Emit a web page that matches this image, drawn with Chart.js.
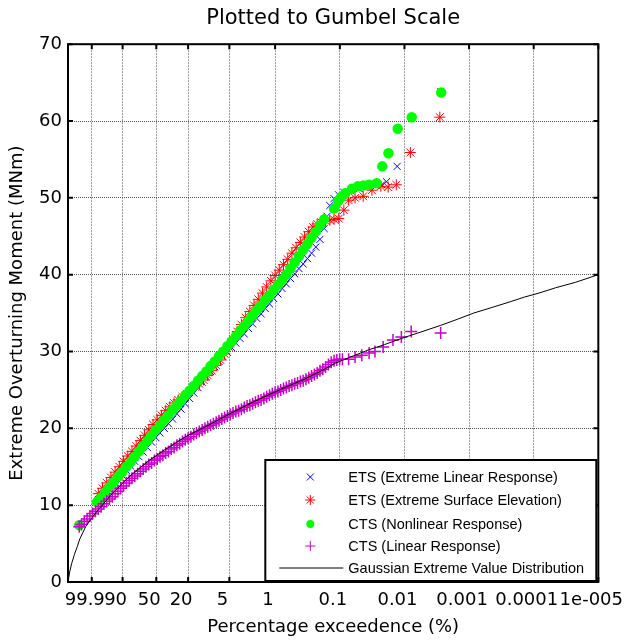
<!DOCTYPE html>
<html>
<head>
<meta charset="utf-8">
<script src="https://cdn.jsdelivr.net/npm/chart.js@4.4.0/dist/chart.umd.min.js"></script>
<style>
  html, body { margin: 0; background: #fff; }
  canvas { display: block; }
</style>
</head>
<body>
<canvas id="gumbel-chart" width="638" height="642"></canvas>
<script>
// x = Gumbel reduced variate -ln(-ln(1 - p/100)), y = moment in MNm
const exceedTicks = [99.9, 90, 50, 20, 5, 1, 0.1, 0.01, 0.001, 0.0001, 0.00001]
const exceedLabels = ['99.9', '90', '50', '20', '5', '1', '0.1', '0.01', '0.001', '0.0001', '1e-005']
const momentTicks = [0, 10, 20, 30, 40, 50, 60, 70]

const etsLinear = [
    [-1.6, 10.8], [-1.45, 11.4], [-1.3, 12.0], [-1.15, 12.6], [-1.0, 13.3], [-0.85, 13.9], [-0.7, 14.5],
    [-0.55, 15.1], [-0.4, 15.7], [-0.25, 16.3], [-0.1, 16.9], [0.05, 17.5], [0.2, 18.2], [0.35, 18.8],
    [0.5, 19.4], [0.65, 20.0], [0.8, 20.6], [0.95, 21.2], [1.1, 21.9], [1.25, 22.5], [1.4, 23.2],
    [1.55, 23.9], [1.7, 24.6], [1.85, 25.3], [2.0, 26.0], [2.15, 26.7], [2.3, 27.4], [2.45, 28.0],
    [2.6, 28.7], [2.75, 29.3], [2.9, 29.9], [3.05, 30.5], [3.2, 31.1], [3.35, 31.7], [3.5, 32.3],
    [3.65, 33.0], [3.8, 33.6], [3.95, 34.3], [4.1, 34.9], [4.25, 35.6], [4.4, 36.2], [4.55, 36.9],
    [4.7, 37.5], [4.85, 38.2], [5.0, 38.8], [5.15, 39.5], [5.3, 40.1], [5.45, 40.8], [5.6, 41.4],
    [5.75, 42.1], [5.9, 42.8], [6.05, 43.6], [6.2, 44.6], [6.35, 46.0], [6.45, 47.6], [6.55, 49.0],
    [6.7, 49.9], [6.86, 50.4], [7.05, 50.7], [7.3, 50.9], [7.6, 51.2], [7.9, 51.5], [8.2, 51.6],
    [8.4, 51.7], [8.57, 52.1], [8.95, 54.1], [10.5, 63.8]
]

const etsSurface = [
    [-1.7, 11.5], [-1.55, 12.2], [-1.4, 12.9], [-1.25, 13.6], [-1.1, 14.3], [-0.95, 15.0], [-0.8, 15.7],
    [-0.65, 16.4], [-0.5, 17.0], [-0.35, 17.7], [-0.2, 18.4], [-0.05, 19.1], [0.1, 19.8], [0.25, 20.5],
    [0.4, 21.1], [0.55, 21.7], [0.7, 22.3], [0.85, 22.8], [1.0, 23.3], [1.15, 23.7], [1.3, 24.1],
    [1.45, 24.5], [1.6, 25.0], [1.75, 25.4], [1.9, 25.8], [2.05, 26.3], [2.2, 26.9], [2.35, 27.5],
    [2.5, 28.2], [2.65, 28.9], [2.8, 29.7], [2.95, 30.6], [3.1, 31.6], [3.25, 32.6], [3.4, 33.5],
    [3.55, 34.4], [3.7, 35.2], [3.85, 36.0], [4.0, 36.8], [4.15, 37.6], [4.3, 38.4], [4.45, 39.2],
    [4.6, 39.9], [4.75, 40.6], [4.9, 41.3], [5.05, 42.0], [5.2, 42.8], [5.35, 43.5], [5.5, 44.2],
    [5.65, 44.9], [5.8, 45.6], [5.95, 46.2], [6.1, 46.6], [6.25, 46.8], [6.4, 47.0], [6.55, 47.1],
    [6.7, 47.2], [6.87, 47.3], [7.05, 48.4], [7.22, 49.7], [7.45, 50.0], [7.74, 50.2], [8.05, 51.0],
    [8.37, 51.5], [8.63, 51.4], [8.92, 51.7], [9.42, 55.9], [10.47, 60.5]
]

const ctsNonlinear = [
    [-2.38, 7.4], [-1.75, 10.4], [-1.6, 11.0], [-1.45, 11.7], [-1.3, 12.4], [-1.15, 13.0], [-1.0, 13.7],
    [-0.85, 14.3], [-0.7, 15.0], [-0.55, 15.6], [-0.4, 16.3], [-0.25, 17.0], [-0.1, 17.7], [0.05, 18.4],
    [0.2, 19.1], [0.35, 19.8], [0.5, 20.4], [0.65, 21.1], [0.8, 21.7], [0.95, 22.4], [1.1, 23.0],
    [1.25, 23.6], [1.4, 24.3], [1.55, 24.9], [1.7, 25.5], [1.85, 26.2], [2.0, 26.8], [2.15, 27.4],
    [2.3, 28.1], [2.45, 28.7], [2.6, 29.4], [2.75, 30.0], [2.9, 30.7], [3.05, 31.3], [3.2, 32.0],
    [3.35, 32.7], [3.5, 33.3], [3.65, 34.0], [3.8, 34.7], [3.95, 35.4], [4.1, 36.0], [4.25, 36.7],
    [4.4, 37.3], [4.55, 38.0], [4.7, 38.7], [4.85, 39.3], [5.0, 40.0], [5.15, 40.8], [5.3, 41.6],
    [5.45, 42.4], [5.6, 43.2], [5.75, 44.0], [5.9, 44.8], [6.05, 45.6], [6.2, 46.4], [6.35, 47.2],
    [6.7, 48.6], [6.85, 49.6], [6.95, 50.1], [7.1, 50.6], [7.34, 51.2], [7.55, 51.5], [7.75, 51.6],
    [7.95, 51.7], [8.22, 51.9], [8.42, 54.1], [8.64, 55.8], [8.97, 59.0], [9.47, 60.5], [10.52, 63.7]
]

const ctsLinear = [
    [-2.38, 7.2], [-2.3, 7.5], [-2.2, 7.9], [-2.1, 8.2], [-2.0, 8.6], [-1.9, 8.9], [-1.8, 9.2],
    [-1.7, 9.5], [-1.6, 9.8], [-1.5, 10.2], [-1.4, 10.5], [-1.3, 10.8], [-1.2, 11.1], [-1.1, 11.5],
    [-1.0, 11.8], [-0.9, 12.2], [-0.8, 12.5], [-0.7, 12.9], [-0.6, 13.2], [-0.5, 13.5], [-0.4, 13.8],
    [-0.3, 14.1], [-0.2, 14.4], [-0.1, 14.7], [0.0, 15.0], [0.1, 15.3], [0.2, 15.5], [0.3, 15.8],
    [0.4, 16.0], [0.5, 16.3], [0.6, 16.5], [0.7, 16.8], [0.8, 17.0], [0.9, 17.3], [1.0, 17.5],
    [1.1, 17.8], [1.2, 18.0], [1.3, 18.3], [1.4, 18.5], [1.5, 18.7], [1.6, 18.9], [1.7, 19.2],
    [1.8, 19.4], [1.9, 19.6], [2.0, 19.8], [2.1, 20.0], [2.2, 20.2], [2.3, 20.4], [2.4, 20.6],
    [2.5, 20.8], [2.6, 21.0], [2.7, 21.2], [2.8, 21.4], [2.9, 21.6], [3.0, 21.8], [3.1, 22.0],
    [3.2, 22.2], [3.3, 22.3], [3.4, 22.5], [3.5, 22.7], [3.6, 22.9], [3.7, 23.0], [3.8, 23.2],
    [3.9, 23.4], [4.0, 23.6], [4.1, 23.7], [4.2, 23.9], [4.3, 24.1], [4.4, 24.3], [4.5, 24.5],
    [4.6, 24.7], [4.7, 24.8], [4.8, 25.0], [4.9, 25.2], [5.0, 25.3], [5.1, 25.5], [5.2, 25.6],
    [5.3, 25.8], [5.4, 25.9], [5.5, 26.1], [5.6, 26.2], [5.7, 26.4], [5.8, 26.6], [5.9, 26.8],
    [6.0, 27.0], [6.1, 27.2], [6.2, 27.5], [6.3, 27.7], [6.4, 28.0], [6.5, 28.3], [6.6, 28.6],
    [6.7, 28.8], [6.8, 28.9], [6.9, 29.0], [7.0, 29.0], [7.22, 29.0], [7.45, 29.3], [7.69, 29.5],
    [7.95, 29.8], [8.16, 30.0], [8.45, 30.6], [8.8, 31.5], [9.1, 31.9], [9.45, 32.6], [10.5, 32.4]
]

const gaussianEv = [
    [-2.77, 0.2], [-2.72, 1.3], [-2.65, 2.4], [-2.55, 3.6], [-2.45, 4.6], [-2.36, 5.6], [-2.15, 7.2],
    [-1.9, 8.5], [-1.68, 9.5], [-1.2, 11.5], [-0.51, 14.0], [0.1, 15.8], [0.66, 17.2], [1.4, 18.9],
    [2.17, 20.3], [2.99, 21.9], [3.8, 23.4], [4.4, 24.4], [5.0, 25.4], [5.59, 26.3], [6.2, 27.4],
    [6.76, 28.5], [7.3, 29.3], [7.92, 30.2], [8.5, 30.9], [9.1, 31.7], [9.68, 32.4], [10.5, 33.4],
    [11.1, 34.2], [11.67, 35.0], [12.3, 35.7], [13.0, 36.5], [13.5, 37.1], [14.0, 37.6], [14.6, 38.3],
    [15.3, 39.0], [16.118, 40.0]
]

const gumbel = p => -Math.log(-Math.log(1 - p / 100))
const toPoints = arr => arr.map(([x, y]) => ({ x, y }))

const FONT = '"DejaVu Sans", sans-serif'
const LEGEND_FONT = '"Liberation Sans", Arial, sans-serif'
const MAGENTA = '#c800c8'

// legend marks
function mark(ctx, kind, x, y) {
    ctx.save()
    ctx.lineWidth = 1
    if (kind === 'x') {
        ctx.strokeStyle = '#0000ff'
        ctx.beginPath()
        ctx.moveTo(x - 3.5, y - 3.5); ctx.lineTo(x + 3.5, y + 3.5)
        ctx.moveTo(x + 3.5, y - 3.5); ctx.lineTo(x - 3.5, y + 3.5)
        ctx.stroke()
    } else if (kind === 'star') {
        ctx.strokeStyle = '#ff0000'
        ctx.beginPath()
        ctx.moveTo(x - 5, y); ctx.lineTo(x + 5, y)
        ctx.moveTo(x, y - 5); ctx.lineTo(x, y + 5)
        ctx.moveTo(x - 3.5, y - 3.5); ctx.lineTo(x + 3.5, y + 3.5)
        ctx.moveTo(x + 3.5, y - 3.5); ctx.lineTo(x - 3.5, y + 3.5)
        ctx.stroke()
    } else if (kind === 'dot') {
        ctx.fillStyle = '#00ff00'
        ctx.beginPath()
        ctx.arc(x, y, 4, 0, Math.PI * 2)
        ctx.fill()
    } else if (kind === 'plus') {
        ctx.strokeStyle = MAGENTA
        ctx.beginPath()
        ctx.moveTo(x - 5, y); ctx.lineTo(x + 5, y)
        ctx.moveTo(x, y - 5); ctx.lineTo(x, y + 5)
        ctx.stroke()
    } else {
        ctx.strokeStyle = '#000'
        ctx.beginPath()
        ctx.moveTo(x - 31, y); ctx.lineTo(x + 33, y)
        ctx.stroke()
    }
    ctx.restore()
}

const legendRows = [
    ['x', 'ETS (Extreme Linear Response)'],
    ['star', 'ETS (Extreme Surface Elevation)'],
    ['dot', 'CTS (Nonlinear Response)'],
    ['plus', 'CTS (Linear Response)'],
    ['line', 'Gaussian Extreme Value Distribution']
]

const framePlugin = {
    id: 'matlabFrame',
    afterDatasetsDraw(chart) {
        const { ctx, chartArea: a, scales } = chart
        ctx.save()
        // inward ticks
        ctx.strokeStyle = '#000'
        ctx.lineWidth = 2
        ctx.beginPath()
        scales.x.ticks.forEach(t => {
            const px = scales.x.getPixelForValue(t.value)
            ctx.moveTo(px, a.bottom); ctx.lineTo(px, a.bottom - 5)
            ctx.moveTo(px, a.top); ctx.lineTo(px, a.top + 5)
        })
        scales.y.ticks.forEach(t => {
            const py = scales.y.getPixelForValue(t.value)
            ctx.moveTo(a.left, py); ctx.lineTo(a.left + 5, py)
            ctx.moveTo(a.right, py); ctx.lineTo(a.right - 5, py)
        })
        ctx.stroke()

        // legend box
        const w = 331, h = 121
        const lx = a.right - 2 - w, ly = a.bottom - 1 - h
        ctx.fillStyle = '#fff'
        ctx.fillRect(lx, ly, w, h)
        ctx.lineWidth = 2
        ctx.strokeRect(lx, ly, w, h)
        const rowY = [17, 40, 64, 86, 108]
        ctx.font = '14.5px ' + LEGEND_FONT
        ctx.textBaseline = 'middle'
        ctx.fillStyle = '#000'
        legendRows.forEach(([kind, text], i) => {
            mark(ctx, kind, lx + 45, ly + rowY[i])
            ctx.fillText(text, lx + 83, ly + rowY[i] + 1)
        })

        // axes box
        ctx.lineWidth = 2
        ctx.strokeStyle = '#000'
        ctx.strokeRect(a.left, a.top, a.right - a.left, a.bottom - a.top)
        ctx.restore()
    }
}

document.addEventListener('DOMContentLoaded', () => {
    const canvas = document.getElementById('gumbel-chart')

    new Chart(canvas, {
        type: 'scatter',
        data: {
            datasets: [
                {
                    type: 'line',
                    label: 'Gaussian Extreme Value Distribution',
                    data: toPoints(gaussianEv),
                    borderColor: '#000',
                    borderWidth: 1,
                    pointRadius: 0,
                    showLine: true,
                    order: 0
                },
                {
                    label: 'CTS (Linear Response)',
                    data: toPoints(ctsLinear),
                    pointStyle: 'cross',
                    pointRadius: 6,
                    borderColor: MAGENTA,
                    borderWidth: 1.5,
                    order: 1
                },
                {
                    label: 'CTS (Nonlinear Response)',
                    data: toPoints(ctsNonlinear),
                    pointStyle: 'circle',
                    pointRadius: 4.5,
                    backgroundColor: '#00ff00',
                    borderColor: '#00ff00',
                    borderWidth: 1.5,
                    order: 2
                },
                {
                    label: 'ETS (Extreme Surface Elevation)',
                    data: toPoints(etsSurface),
                    pointStyle: 'star',
                    pointRadius: 5.5,
                    borderColor: '#ff0000',
                    borderWidth: 1,
                    order: 3
                },
                {
                    label: 'ETS (Extreme Linear Response)',
                    data: toPoints(etsLinear),
                    pointStyle: 'crossRot',
                    pointRadius: 5,
                    borderColor: '#0000ff',
                    borderWidth: 1,
                    order: 4
                }
            ]
        },
        options: {
            responsive: false,
            animation: false,
            devicePixelRatio: 1,
            layout: { padding: { top: 0, left: 0, right: 31, bottom: 0 } },
            plugins: {
                legend: { display: false },
                tooltip: { enabled: false },
                title: {
                    display: true,
                    text: 'Plotted to Gumbel Scale',
                    fullSize: false,
                    color: '#000',
                    font: { family: FONT, size: 21, weight: 'normal', lineHeight: 1.2 },
                    padding: { top: 6, bottom: 13 }
                }
            },
            scales: {
                x: {
                    type: 'linear',
                    min: -2.78,
                    max: gumbel(exceedTicks[exceedTicks.length - 1]),
                    afterBuildTicks: scale => {
                        scale.ticks = exceedTicks.map(p => ({ value: gumbel(p) }))
                    },
                    afterFit: scale => { scale.height = 60 },
                    ticks: {
                        callback: (v, i) => exceedLabels[i],
                        color: '#000',
                        font: { family: FONT, size: 18 },
                        padding: 8,
                        labelOffset: -7,
                        maxRotation: 0,
                        autoSkip: false
                    },
                    grid: { color: '#999', drawTicks: false },
                    border: { display: false, dash: [2, 1] },
                    title: {
                        display: true,
                        text: 'Percentage exceedence (%)',
                        color: '#000',
                        font: { family: FONT, size: 18 },
                        padding: { top: 0, bottom: 4 }
                    }
                },
                y: {
                    min: 0,
                    max: 70,
                    afterBuildTicks: scale => {
                        scale.ticks = momentTicks.map(v => ({ value: v }))
                    },
                    afterFit: scale => { scale.width = 68 },
                    ticks: {
                        color: '#000',
                        font: { family: FONT, size: 18 },
                        padding: 6
                    },
                    grid: { color: '#555', drawTicks: false },
                    border: { display: false, dash: [1, 1] },
                    title: {
                        display: true,
                        text: 'Extreme Overturning Moment (MNm)',
                        color: '#000',
                        font: { family: FONT, size: 18 },
                        padding: { top: 7, bottom: 0 }
                    }
                }
            }
        },
        plugins: [framePlugin]
    })
})
</script>
</body>
</html>
